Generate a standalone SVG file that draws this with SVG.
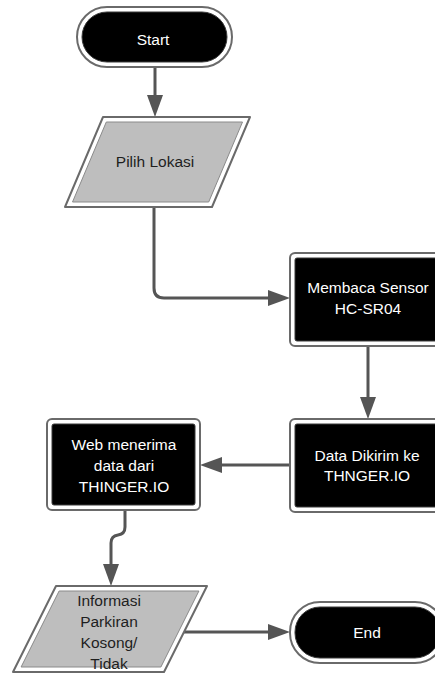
<svg xmlns="http://www.w3.org/2000/svg" width="435" height="677" viewBox="0 0 435 677">
  <style>
    .outer { fill: #ffffff; stroke: #6a6a6a; stroke-width: 2; stroke-linejoin: round; }
    .inner-dark { fill: #000000; stroke: #3a3a3a; stroke-width: 1; stroke-linejoin: round; }
    .inner-grey { fill: #bebebe; stroke: #8a8a8a; stroke-width: 1; stroke-linejoin: round; }
    .label { font-family: "Liberation Sans", Arial, sans-serif; font-size: 15.5px; text-anchor: middle; }
    .light { fill: #ffffff; }
    .darktxt { fill: #1e1e1e; }
    .flow { fill: none; stroke: #555555; stroke-width: 3; }
  </style>
  <defs>
    <marker id="arrow" markerUnits="userSpaceOnUse" markerWidth="22" markerHeight="16" refX="12" refY="8" orient="auto">
      <path d="M0,0 L22,8 L0,16 z" fill="#555555"/>
    </marker>
  </defs>

  <rect width="435" height="677" fill="#ffffff"/>

  <!-- connectors -->
  <g id="connectors">
    <path class="flow" d="M155,67 V107" marker-end="url(#arrow)"/>
    <path class="flow" d="M154,207 V288 Q154,298 164,298 H280" marker-end="url(#arrow)"/>
    <path class="flow" d="M368,346 V409" marker-end="url(#arrow)"/>
    <path class="flow" d="M290,465 H210" marker-end="url(#arrow)"/>
    <path class="flow" d="M125,510 V527 Q125,534 118,535 Q111,536 111,543 V576" marker-end="url(#arrow)"/>
    <path class="flow" d="M184,632 H280" marker-end="url(#arrow)"/>
  </g>

  <!-- Start terminal -->
  <g id="start">
    <rect class="outer" x="77" y="7" width="155" height="60" rx="30"/>
    <rect class="inner-dark" x="82" y="12" width="145" height="50" rx="25"/>
    <text class="label light" x="153" y="45">Start</text>
  </g>

  <!-- Pilih Lokasi input -->
  <g id="pilih-lokasi">
    <polygon class="outer" points="103,117 250,117 212,207 65,207"/>
    <polygon class="inner-grey" points="106.3,122 242.5,122 208.7,202 72.5,202"/>
    <text class="label darktxt" x="155" y="167">Pilih Lokasi</text>
  </g>

  <!-- Membaca Sensor process -->
  <g id="membaca-sensor">
    <rect class="outer" x="290" y="253" width="155" height="93" rx="5"/>
    <rect class="inner-dark" x="295" y="258" width="145" height="83" rx="2"/>
    <text class="label light" x="368" y="293">Membaca Sensor</text>
    <text class="label light" x="368" y="314">HC-SR04</text>
  </g>

  <!-- Data Dikirim process -->
  <g id="data-dikirim">
    <rect class="outer" x="290" y="419" width="155" height="93" rx="5"/>
    <rect class="inner-dark" x="295" y="424" width="145" height="83" rx="2"/>
    <text class="label light" x="367" y="461">Data Dikirim ke</text>
    <text class="label light" x="367" y="481">THNGER.IO</text>
  </g>

  <!-- Web menerima process -->
  <g id="web-menerima">
    <rect class="outer" x="47" y="419" width="153" height="91" rx="5"/>
    <rect class="inner-dark" x="52" y="424" width="143" height="81" rx="2"/>
    <text class="label light" x="124" y="450">Web menerima</text>
    <text class="label light" x="124" y="471">data dari</text>
    <text class="label light" x="124" y="492">THINGER.IO</text>
  </g>

  <!-- Informasi output -->
  <g id="informasi">
    <polygon class="outer" points="56,586 207,586 164,672 13,672"/>
    <polygon class="inner-grey" points="59.1,591 198.9,591 160.9,667 21.1,667"/>
    <text class="label darktxt" x="109" y="606">Informasi</text>
    <text class="label darktxt" x="109" y="627">Parkiran</text>
    <text class="label darktxt" x="109" y="648">Kosong/</text>
    <text class="label darktxt" x="109" y="669">Tidak</text>
  </g>

  <!-- End terminal -->
  <g id="end">
    <rect class="outer" x="290" y="602" width="155" height="61" rx="30"/>
    <rect class="inner-dark" x="295" y="607" width="145" height="51" rx="25"/>
    <text class="label light" x="367" y="638">End</text>
  </g>
</svg>
